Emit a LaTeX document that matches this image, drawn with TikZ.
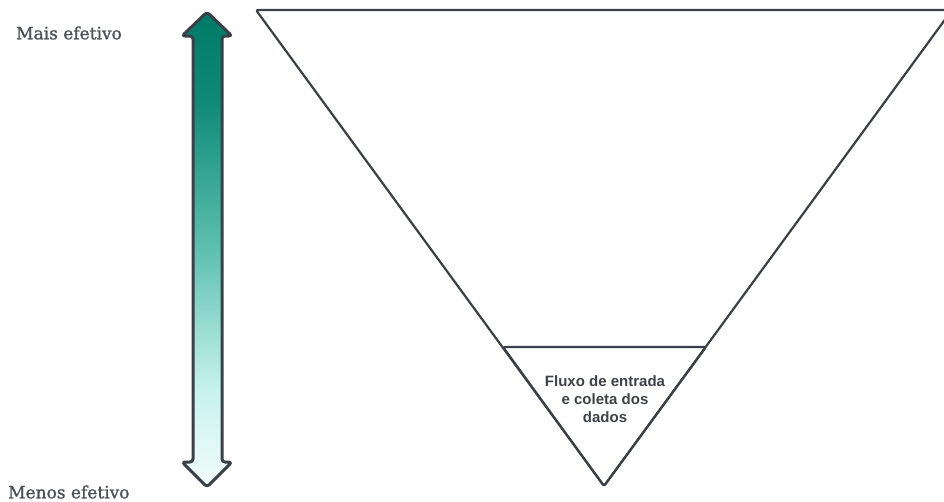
\documentclass[tikz,border=0pt]{standalone}
\usepackage{fontspec}
\setmainfont{Liberation Sans}
\newfontfamily\labelfont[FakeBold=1.2]{DejaVu Serif}
\newfontfamily\boxfont{Liberation Sans}
\definecolor{lineC}{HTML}{3B4048}
\definecolor{txtC}{HTML}{3D424A}
\definecolor{lblC}{HTML}{4B5058}
\definecolor{g0}{HTML}{007A67}
\definecolor{g1}{HTML}{0E8A77}
\definecolor{g2}{HTML}{5EC0B0}
\definecolor{g3}{HTML}{C8F3EE}
\definecolor{g5}{HTML}{F2FCFB}
\pgfdeclareverticalshading{arrowgrad}{100bp}{color(0bp)=(g5); color(25bp)=(g5); color(35bp)=(g3); color(50bp)=(g2); color(65.7bp)=(g1); color(75bp)=(g0); color(100bp)=(g0)}
\tikzset{
  outline/.style={draw=lineC, line width=2.2pt, line join=round, rounded corners=2pt},
  arrowline/.style={draw=lineC, line width=3pt, line join=round, rounded corners=3pt},
  lbl/.style={font=\labelfont\fontsize{17}{20}\selectfont, text=lblC, inner sep=0pt},
  boxtxt/.style={font=\boxfont\bfseries\fontsize{15}{18}\selectfont, text=txtC, align=center, inner sep=0pt}
}
\begin{document}
\begin{tikzpicture}[x=1pt,y=-1pt]
\useasboundingbox (0,0) rectangle (944,501);
% double arrow
\coordinate (atop) at (207,12);
\coordinate (abot) at (207,487);
\path[arrowline, shading=arrowgrad]
  (atop) -- (232,36) -- (222,36) -- (222,462) -- (232,462) -- (abot) -- (182,462) -- (193,462) -- (193,36) -- (182,36) -- cycle;
% big triangle
\coordinate (tl) at (256,10);
\coordinate (tr) at (952,10);
\coordinate (apex) at (604,486);
\draw[outline] (tl) -- (tr) -- (apex) -- cycle;
% small triangle
\coordinate (sl) at (503,347);
\coordinate (sr) at (706,347);
\draw[outline] (sl) -- (sr) -- (apex) -- cycle;
\node[boxtxt] (flow) at (605,399) {Fluxo de entrada\\e coleta dos\\dados};
% labels
\node[lbl, anchor=west] (mais) at (16,33) {Mais efetivo};
\node[lbl, anchor=west] (menos) at (8,492) {Menos efetivo};
\end{tikzpicture}
\end{document}
